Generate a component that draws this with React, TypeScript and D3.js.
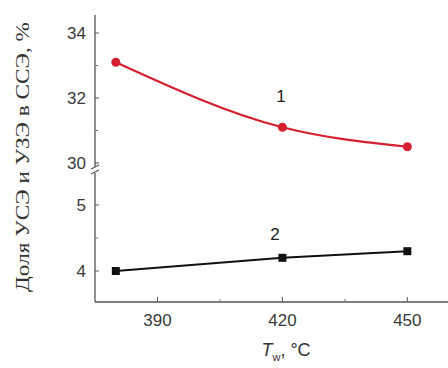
import React from "react";
import * as d3 from "d3";

const temps = [380, 420, 450];
const series1 = [33.1, 31.1, 30.5];
const series2 = [4.0, 4.2, 4.3];
const xTicks = [390, 420, 450];
const xMinor = [405, 435];
const yUpperTicks = [30, 32, 34];
const yUpperMinor = [31, 33];
const yLowerTicks = [4, 5];
const yLowerMinor = [4.5];
const curveLabels = ["1", "2"];

const W = 448;
const H = 368;
const axisX = 95;
const axisBottom = 302;
const axisTop = 15;
const breakY = 170;

export default function App() {
  const x = d3.scaleLinear().domain([375, 460]).range([axisX, 449]);
  const yU = d3.scaleLinear().domain([30, 34]).range([163, 33]);
  const yL = d3.scaleLinear().domain([4, 5]).range([271, 205]);

  const line1 = d3
    .line<number>()
    .x((_, i) => x(temps[i]))
    .y((d) => yU(d))
    .curve(d3.curveMonotoneX);
  const line2 = d3
    .line<number>()
    .x((_, i) => x(temps[i]))
    .y((d) => yL(d));

  const tickFont = "'Liberation Sans', Arial, sans-serif";
  const tickColor = "#3a3a3a";

  return (
    <svg width={W} height={H} style={{ display: "block", position: "absolute", left: 0, top: 0 }}>
      <rect width={W} height={H} fill="#fff" />
      {/* axes */}
      <line x1={axisX} y1={axisTop} x2={axisX} y2={axisBottom} stroke="#555" strokeWidth={1.3} />
      <line x1={axisX} y1={axisBottom} x2={448} y2={axisBottom} stroke="#555" strokeWidth={1.3} />
      {/* break marks */}
      <rect x={axisX - 4} y={breakY - 3} width={8} height={6} fill="#fff" />
      <line x1={axisX - 4} y1={breakY - 1} x2={axisX + 4} y2={breakY - 5} stroke="#555" strokeWidth={1.2} />
      <line x1={axisX - 4} y1={breakY + 4} x2={axisX + 4} y2={breakY} stroke="#555" strokeWidth={1.2} />

      {/* y upper ticks */}
      {yUpperTicks.map((t) => (
        <g key={"yu" + t}>
          <line x1={axisX} x2={axisX + 4} y1={yU(t)} y2={yU(t)} stroke="#555" />
          <text x={axisX - 9} y={yU(t)} dy="0.36em" textAnchor="end" fontSize={17} fontFamily={tickFont} fill={tickColor}>
            {t}
          </text>
        </g>
      ))}
      {yUpperMinor.map((t) => (
        <line key={"yum" + t} x1={axisX} x2={axisX + 3} y1={yU(t)} y2={yU(t)} stroke="#777" />
      ))}
      {/* y lower ticks */}
      {yLowerTicks.map((t) => (
        <g key={"yl" + t}>
          <line x1={axisX} x2={axisX + 4} y1={yL(t)} y2={yL(t)} stroke="#555" />
          <text x={axisX - 9} y={yL(t)} dy="0.36em" textAnchor="end" fontSize={17} fontFamily={tickFont} fill={tickColor}>
            {t}
          </text>
        </g>
      ))}
      {yLowerMinor.map((t) => (
        <line key={"ylm" + t} x1={axisX} x2={axisX + 3} y1={yL(t)} y2={yL(t)} stroke="#777" />
      ))}
      {/* x ticks */}
      {xTicks.map((t) => (
        <g key={"x" + t}>
          <line x1={x(t)} x2={x(t)} y1={axisBottom} y2={axisBottom - 5} stroke="#555" />
          <text x={x(t)} y={axisBottom + 24} textAnchor="middle" fontSize={17} fontFamily={tickFont} fill={tickColor}>
            {t}
          </text>
        </g>
      ))}
      {xMinor.map((t) => (
        <line key={"xm" + t} x1={x(t)} x2={x(t)} y1={axisBottom} y2={axisBottom - 3} stroke="#777" />
      ))}

      {/* series 1 */}
      <path d={line1(series1) || ""} fill="none" stroke="#d42030" strokeWidth={2.2} />
      {series1.map((v, i) => (
        <circle key={"c" + i} cx={x(temps[i])} cy={yU(v)} r={4.5} fill="#d42030" />
      ))}
      {/* series 2 */}
      <path d={line2(series2) || ""} fill="none" stroke="#111" strokeWidth={2} />
      {series2.map((v, i) => (
        <rect key={"s" + i} x={x(temps[i]) - 4} y={yL(v) - 4} width={8} height={8} fill="#111" />
      ))}

      {/* curve labels */}
      <text x={281} y={102} textAnchor="middle" fontSize={17} fontFamily={tickFont} fill="#222">
        {curveLabels[0]}
      </text>
      <text x={275} y={240} textAnchor="middle" fontSize={17} fontFamily={tickFont} fill="#222">
        {curveLabels[1]}
      </text>

      {/* x axis title */}
      <text x={286} y={356} textAnchor="middle" fontSize={18} fontFamily={tickFont} fill="#333">
        <tspan fontStyle="italic">T</tspan>
        <tspan fontSize={11} dy={5}>w</tspan>
        <tspan dy={-5}>, °C</tspan>
      </text>

      {/* y axis title */}
      <text
        transform={`translate(29, 157) rotate(-90)`}
        textAnchor="middle"
        fontSize={19}
        textLength={270}
        lengthAdjust="spacingAndGlyphs"
        fontFamily="'Liberation Serif', 'Times New Roman', serif"
        fill="#333"
      >
        Доля УСЭ и УЗЭ в ССЭ, %
      </text>
    </svg>
  );
}
